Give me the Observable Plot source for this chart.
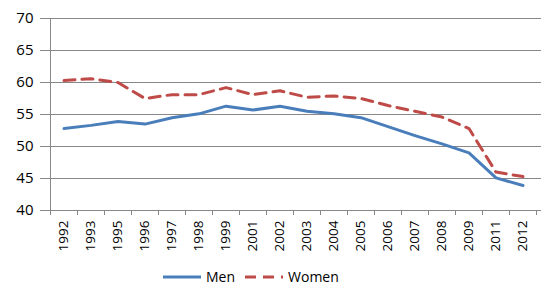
<!DOCTYPE html>
<html><head><meta charset="utf-8">
<script src="https://cdn.jsdelivr.net/npm/d3@7"></script>
<script src="https://cdn.jsdelivr.net/npm/@observablehq/plot@0.6"></script>
<style>
body{margin:0;background:#fff;font-family:"Open Sans",sans-serif;}
#chart{position:relative;width:557px;height:296px;}
#legend{position:absolute;left:162px;top:267px;display:flex;align-items:center;font-size:14px;color:#000;line-height:20px;}
#legend span{margin-right:9px;}
</style></head><body><div id="chart"></div>
<script>
const years = ["1992","1993","1995","1996","1997","1998","1999","2001","2002","2003","2004","2005","2006","2007","2008","2009","2011","2012"];
const men   = [52.8,53.3,53.9,53.5,54.5,55.1,56.3,55.7,56.3,55.5,55.1,54.5,53.1,51.7,50.4,49.0,45.1,43.9];
const women = [60.3,60.6,60.0,57.5,58.1,58.1,59.2,58.1,58.7,57.7,57.9,57.5,56.4,55.5,54.6,52.8,46.0,45.3];
const yTicks = [40,45,50,55,60,65,70];
const seriesNames = ["Men","Women"];
const seriesColors = ["#4A7EBB","#BE4B48"];
const gridColor = "#888888";

const data = years.flatMap((y,i)=>[
  {year:y, value:men[i], series:seriesNames[0]},
  {year:y, value:women[i], series:seriesNames[1]}
]);

const boundaryTicks = (index, scales, values, dims) => {
  const x = scales.x, y = scales.y;
  const step = x(years[1]) - x(years[0]);
  const x0 = x(years[0]);
  const yb = y(40), yt = y(70);
  const g = d3.create("svg:g").attr("stroke", gridColor).attr("stroke-width", 1);
  const xs = years.map((d,i)=>x0 + i*step).concat([x0 + years.length*step]);
  g.selectAll("line.t").data(xs).join("line").attr("class","t")
    .attr("x1",d=>Math.round(d)+0.5).attr("x2",d=>Math.round(d)+0.5)
    .attr("y1",yb).attr("y2",yb+5);
  g.append("line").attr("x1",Math.round(x0)+0.5).attr("x2",Math.round(x0)+0.5).attr("y1",yt).attr("y2",yb);
  return g.node();
};

const chart = Plot.plot({
  width: 557,
  height: 260,
  marginLeft: 44,
  marginRight: 16,
  marginTop: 18,
  marginBottom: 50,
  style: {fontFamily: "'Open Sans', sans-serif", fontSize: "13px", color: "#000", background: "#fff"},
  x: {type: "band", domain: years, padding: 0, label: null},
  y: {domain: [40, 70], label: null},
  color: {domain: seriesNames, range: seriesColors},
  marks: [
    Plot.gridY(yTicks, {stroke: gridColor, strokeOpacity: 1}),
    Plot.axisY(yTicks, {tickSize: 4, tickPadding: 7, stroke: gridColor, fill: "#000", fontSize: 15, label: null, tickFormat: d=>String(d)}),
    Plot.axisX({tickSize: 0, tickPadding: 10, tickRotate: -90, fill: "#000", label: null, fontSize: 13.5}),
    boundaryTicks,
    Plot.line(data.filter(d=>d.series==="Men"), {x: "year", y: "value", stroke: seriesColors[0], strokeWidth: 3, strokeLinejoin: "round"}),
    Plot.line(data.filter(d=>d.series==="Women"), {x: "year", y: "value", stroke: seriesColors[1], strokeWidth: 3, strokeDasharray: "11,7"})
  ]
});
const host = document.getElementById("chart");
host.appendChild(chart);

const legend = document.createElement("div");
legend.id = "legend";
seriesNames.forEach((name,i)=>{
  const sw = document.createElementNS("http://www.w3.org/2000/svg","svg");
  sw.setAttribute("width","40"); sw.setAttribute("height","8");
  sw.style.marginRight = "4px";
  const ln = document.createElementNS("http://www.w3.org/2000/svg","line");
  ln.setAttribute("x1","1"); ln.setAttribute("x2","39"); ln.setAttribute("y1","4"); ln.setAttribute("y2","4");
  ln.setAttribute("stroke", seriesColors[i]); ln.setAttribute("stroke-width","3");
  if (i===1) ln.setAttribute("stroke-dasharray","11,7");
  sw.appendChild(ln);
  legend.appendChild(sw);
  const t = document.createElement("span"); t.textContent = name;
  legend.appendChild(t);
});
host.appendChild(legend);
</script></body></html>
